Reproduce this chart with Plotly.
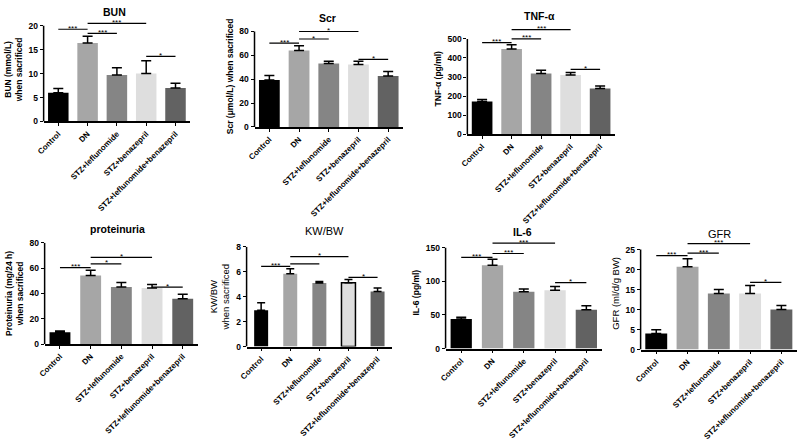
import plotly.graph_objects as go

# ---------------- data ----------------
categories = ["Control", "DN", "STZ+leflunomide", "STZ+benazepril", "STZ+leflunomide+benazepril"]
bar_colors = ["#000000", "#a6a6a6", "#858585", "#dedede", "#626262"]

panel_titles = ["BUN", "Scr", "TNF-α", "proteinuria", "KW/BW", "IL-6", "GFR"]
y_titles = [
    "BUN (mmol/L)<br>when sacrificed",
    "Scr (μmol/L) when sacrificed",
    "TNF-α (pg/ml)",
    "Proteinuria (mg/24 h)<br>when sacrificed",
    "KW/BW<br>when sacrificed",
    "IL-6 (pg/ml)",
    "GFR (ml/d/g BW)",
]

bun_mean = [6.0, 16.4, 9.7, 10.0, 7.0]
bun_sem = [0.9, 1.4, 1.5, 2.7, 1.0]
scr_mean = [39.3, 64.0, 53.1, 52.3, 42.8]
scr_sem = [3.8, 4.0, 1.9, 2.7, 3.6]
tnf_mean = [171, 447, 319, 311, 239]
tnf_sem = [11, 22, 17, 13, 14]
prot_mean = [9.2, 54.2, 45.0, 44.2, 35.8]
prot_sem = [1.0, 4.1, 3.6, 2.8, 3.6]
kw_mean = [2.91, 5.84, 5.09, 5.12, 4.42]
kw_sem = [0.6, 0.39, 0.13, 0.26, 0.28]
il6_mean = [43.8, 124.0, 84.6, 86.5, 57.7]
il6_sem = [2.9, 8.7, 3.9, 5.8, 5.8]
gfr_mean = [4.0, 20.7, 14.0, 14.0, 10.0]
gfr_sem = [0.95, 2.0, 1.0, 2.0, 1.0]

means = [bun_mean, scr_mean, tnf_mean, prot_mean, kw_mean, il6_mean, gfr_mean]
sems = [bun_sem, scr_sem, tnf_sem, prot_sem, kw_sem, il6_sem, gfr_sem]

ytick_max = [20, 80, 500, 80, 8, 150, 25]
ytick_step = [5, 20, 100, 20, 2, 50, 5]

# significance brackets: (from group, to group), height, label
bracket_pairs = [(0, 1), (1, 2), (1, 3), (3, 4)]
bun_br_h = [19.25, 18.4, 20.5, 13.6]
bun_br_lbl = ["***", "***", "***", "*"]
scr_br_h = [70.2, 73.7, 80.0, 56.7]
scr_br_lbl = ["***", "*", "*", "*"]
tnf_br_h = [481, 500, 549, 340]
tnf_br_lbl = ["***", "***", "***", "*"]
prot_br_h = [60.3, 63.4, 68.5, 45.0]
prot_br_lbl = ["***", "*", "*", "*"]
kw_br_h = [6.42, 6.63, 7.2, 5.54]
kw_br_lbl = ["***", "", "*", "*"]
il6_br_h = [135.6, 141.3, 156.7, 98.0]
il6_br_lbl = ["***", "***", "***", "*"]
gfr_br_h = [23.5, 24.1, 26.5, 16.8]
gfr_br_lbl = ["***", "***", "***", "*"]

br_heights = [bun_br_h, scr_br_h, tnf_br_h, prot_br_h, kw_br_h, il6_br_h, gfr_br_h]
br_labels = [bun_br_lbl, scr_br_lbl, tnf_br_lbl, prot_br_lbl, kw_br_lbl, il6_br_lbl, gfr_br_lbl]

# ---------------- layout (pixels in the 800x441 window) ----------------
W, H = 800, 441
# x_left, x_right, y_bottom(0), y_at_top_tick
boxes = [
    (36, 184, 120, 21.3),
    (249, 399, 125.7, 27.3),
    (464, 613, 133, 35),
    (37, 192, 349.3, 245),
    (241, 388, 352, 249),
    (442, 600, 354, 250),
    (639, 797, 355, 252),
]
title_pos = [(108, 7), (323, 13), (537, 11), (111, 231), (320, 233), (520, 234), (719, 236)]
bold_panel = [True, True, True, True, False, True, False]
bar_width = [0.7, 0.7, 0.7, 0.68, 0.48, 0.68, 0.7]

FONT = "Liberation Sans, Arial, sans-serif"


def fx(px):
    return px / W


def fy(py):
    return 1 - py / H


fig = go.Figure()
shapes = []
annotations = []
layout_axes = {}

for p in range(7):
    n = p + 1
    xs = "x" if n == 1 else f"x{n}"
    ys = "y" if n == 1 else f"y{n}"
    xk = "xaxis" if n == 1 else f"xaxis{n}"
    yk = "yaxis" if n == 1 else f"yaxis{n}"
    x0, x1, yb, yt = boxes[p]
    tmax = ytick_max[p]
    rtop = max(tmax, max(br_heights[p]) * 1.06)
    top_px = yb - (yb - yt) * rtop / tmax
    weight = "bold" if bold_panel[p] else "normal"

    line_w = [0] * 5
    if p == 4:
        line_w = [0, 0, 0, 1.5, 0]

    fig.add_trace(go.Bar(
        x=categories, y=means[p], xaxis=xs, yaxis=ys,
        width=bar_width[p],
        marker=dict(color=bar_colors, line=dict(color="black", width=line_w)),
        error_y=dict(type="data", array=sems[p], arrayminus=[0] * 5, symmetric=False,
                     color="black", thickness=1.5, width=4 if p == 4 else 5),
        hoverinfo="skip",
    ))

    layout_axes[xk] = dict(
        domain=[fx(x0), fx(x1)], anchor=ys, type="category",
        categoryorder="array", categoryarray=categories,
        range=[-0.5, 4.5], showline=True, linecolor="black", linewidth=1.5,
        ticks="outside", ticklen=3, tickwidth=1.2, tickcolor="black",
        tickangle=-45, tickfont=dict(family=FONT, size=8, color="black", weight="bold"),
        showgrid=False, zeroline=False, fixedrange=True,
    )
    tv = [i * ytick_step[p] for i in range(int(round(tmax / ytick_step[p])) + 1)]
    layout_axes[yk] = dict(
        domain=[fy(yb), fy(top_px)], anchor=xs, range=[0, rtop],
        tickvals=tv, ticktext=[f"{v:g}" for v in tv],
        showline=False, ticks="outside", ticklen=3, tickwidth=1.2, tickcolor="black",
        tickfont=dict(family=FONT, size=8.5, color="black", weight="bold"),
        showgrid=False, zeroline=False, fixedrange=True,
        title=dict(text=y_titles[p], standoff=4,
                   font=dict(family=FONT, size=8.5 if bold_panel[p] else 9.5, color="black", weight=weight)),
    )
    # y-axis line ending at the top tick (Prism style)
    shapes.append(dict(type="line", xref=f"{xs} domain", yref=ys, x0=0, x1=0, y0=0, y1=tmax,
                       line=dict(color="black", width=1.5)))
    # brackets
    for (a, b), h, lbl in zip(bracket_pairs, br_heights[p], br_labels[p]):
        shapes.append(dict(type="line", xref=xs, yref=ys, x0=a, x1=b, y0=h, y1=h,
                           line=dict(color="black", width=1.2)))
        if lbl:
            annotations.append(dict(x=(a + b) / 2, y=h, xref=xs, yref=ys, text=lbl,
                                    showarrow=False, yanchor="middle", yshift=1,
                                    font=dict(family=FONT, size=8, color="black")))
    # panel title
    tx, ty = title_pos[p]
    annotations.append(dict(x=fx(tx), y=fy(ty), xref="paper", yref="paper",
                            text=panel_titles[p], showarrow=False,
                            xanchor="center", yanchor="middle",
                            font=dict(family=FONT, size=10.5 if bold_panel[p] else 11,
                                      color="black", weight=weight)))

fig.update_layout(
    width=W, height=H, margin=dict(l=0, r=0, t=0, b=0),
    paper_bgcolor="white", plot_bgcolor="white", showlegend=False,
    shapes=shapes, annotations=annotations, bargap=0.3,
    **layout_axes,
)

# remove the default 8px page margin so the figure fills the 800x441 window
fig.write_html("out.html", config={"displayModeBar": False},
               post_script="document.body.style.margin='0';document.body.style.overflow='hidden';")
